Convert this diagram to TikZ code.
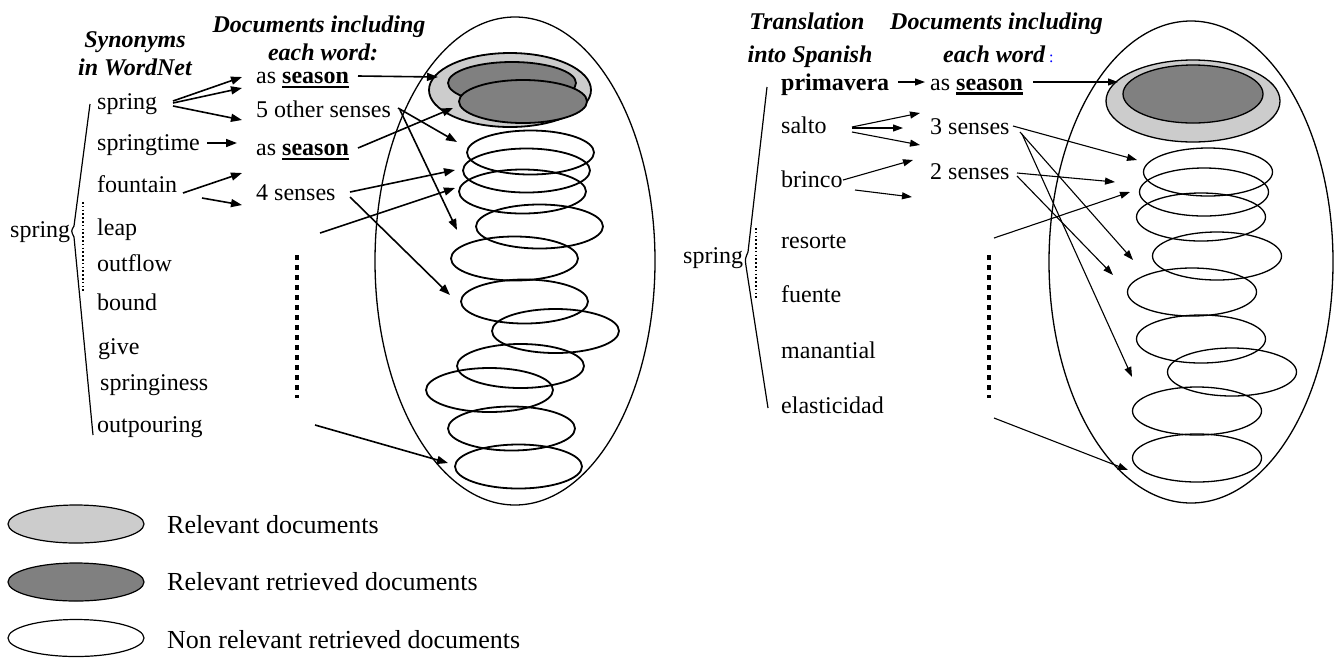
\documentclass[tikz,border=0pt]{standalone}
\usepackage{fontspec}
\setmainfont{Liberation Serif}
\usetikzlibrary{arrows.meta}
\definecolor{relgray}{HTML}{CCCCCC}
\definecolor{retgray}{HTML}{808080}
\newsavebox\ulwordbox
\newcommand\ulword[2][2.2pt]{\sbox\ulwordbox{#2}\rlap{\rule[-4.8pt]{\wd\ulwordbox}{#1}}\usebox\ulwordbox}
\begin{document}
\begin{tikzpicture}[x=1pt,y=-1pt,
  txt/.style={anchor=base west, inner sep=0pt, font=\fontsize{24}{28}\selectfont},
  hdr/.style={anchor=base, inner sep=0pt, font=\fontsize{24}{28}\selectfont\bfseries\itshape},
  legtxt/.style={anchor=base west, inner sep=0pt, font=\fontsize{26}{30}\selectfont},
  larr/.style={line width=1.6pt, -{Triangle[length=11pt,width=8pt]}},
  rarr/.style={line width=1.1pt, -{Triangle[length=10pt,width=7pt]}},
  bracket/.style={line width=1.2pt, line join=round},
  dotline/.style={line width=1.6pt, dash pattern=on 1.6pt off 2.2pt},
  dashline/.style={line width=3.5pt, dash pattern=on 5pt off 5pt},
  oval/.style={line width=1.3pt},
  ldoc/.style={line width=1.8pt},
  rdoc/.style={line width=1.3pt},
  relfill/.style={fill=relgray, draw=black},
  retfill/.style={fill=retgray, draw=black}]
\useasboundingbox (0,0) rectangle (1340,657);

% ---------------- English side ----------------
\node[hdr] (hS1) at (135,47) {Synonyms};
\node[hdr] (hS2) at (135,75) {in WordNet};
\node[hdr] (hD1) at (319,32) {Documents including};
\node[hdr] (hD2) at (323,60) {each word:};

\node[txt] (root) at (10,237) {spring};
\node[txt] (sp)  at (97,109) {spring};
\node[txt] (spt) at (97,150) {springtime};
\node[txt] (fnt) at (97,192) {fountain};
\node[txt] (lp)  at (97,235) {leap};
\node[txt] (ofl) at (97,271) {outflow};
\node[txt] (bnd) at (97,310) {bound};
\node[txt] (gv)  at (98,354) {give};
\node[txt] (spn) at (100,390) {springiness};
\node[txt] (opr) at (97,432) {outpouring};

\node[txt] (d1) at (256,83) {as \ulword{\bfseries season}};
\node[txt] (d2) at (256,117) {5 other senses};
\node[txt] (d3) at (256,155) {as \ulword{\bfseries season}};
\node[txt] (d4) at (256,200) {4 senses};

% brace joining the synonyms
\draw[bracket] (90,104) -- (74,226) .. controls (71,231) .. (74,237) -- (93,435);
\draw[dotline] (83,202) -- (83,293);
\draw[dashline] (297,255) -- (297,398);

% document set
\draw[oval] (515,261) ellipse [x radius=140, y radius=244];
\draw[ldoc, relfill] (510,90) ellipse [x radius=81, y radius=37];
\draw[ldoc, retfill] (512,83) ellipse [x radius=64, y radius=21];
\draw[ldoc, retfill] (523,101.5) ellipse [x radius=64, y radius=21.5];
\foreach \cx/\cy in {530.5/152.5, 526.5/170.5, 522.5/191.5, 539.5/226.5,
                     514.5/258.5, 524.5/301.5, 555.5/331, 520.5/366,
                     489.5/390, 511.5/428.5, 518.5/466.5}
  \draw[ldoc] (\cx,\cy) ellipse [x radius=63.5, y radius=22];

% arrow ends
\coordinate (a1s) at (173,101); \coordinate (a1e) at (242,77);
\coordinate (a2s) at (173,103); \coordinate (a2e) at (242,88);
\coordinate (a3s) at (173,106); \coordinate (a3e) at (242,120);
\coordinate (a4s) at (207,143); \coordinate (a4e) at (237,143);
\coordinate (a5s) at (183,193); \coordinate (a5e) at (242,173);
\coordinate (a6s) at (202,198); \coordinate (a6e) at (242,205);
\coordinate (b1s) at (358,76);  \coordinate (b1e) at (438,77);
\coordinate (b2s) at (398,108); \coordinate (b2e) at (457,142);
\coordinate (b3s) at (400,110); \coordinate (b3e) at (457,230);
\coordinate (b4s) at (358,148); \coordinate (b4e) at (453,108);
\coordinate (b5s) at (350,192); \coordinate (b5e) at (455,170);
\coordinate (b6s) at (350,197); \coordinate (b6e) at (450,295);
\coordinate (b7s) at (320,233); \coordinate (b7e) at (455,188);
\coordinate (b8s) at (315,425); \coordinate (b8e) at (448,463);

\foreach \p in {a1,a2,a3,a4,a5,a6,b1,b2,b3,b4,b5,b6,b7,b8}
  \draw[larr] (\p s) -- (\p e);

% ---------------- Spanish side ----------------
\node[hdr] (hT1) at (807,29) {Translation};
\node[hdr] (hT2) at (810,62) {into Spanish};
\node[hdr, anchor=base west] (hR1) at (890,29) {Documents including};
\node[hdr, anchor=base west] (hR2) at (943,62) {each word\,{\fontsize{16}{16}\selectfont\mdseries\upshape\color{blue}:}};

\node[txt] (root2) at (683,263) {spring};
\node[txt, font=\fontsize{24}{28}\selectfont\bfseries] (pv) at (781,90) {primavera};
\node[txt] (sl) at (781,133) {salto};
\node[txt] (br) at (781,187) {brinco};
\node[txt] (rs) at (781,248) {resorte};
\node[txt] (fu) at (781,302) {fuente};
\node[txt] (mn) at (781,358) {manantial};
\node[txt] (el) at (781,413) {elasticidad};

\node[txt] (r1) at (930,90) {as \ulword[2.6pt]{\bfseries season}};
\node[txt] (r2) at (930,134) {3 senses};
\node[txt] (r3) at (930,179) {2 senses};

\draw[bracket] (767,87) -- (748,252) .. controls (745,259) .. (746,266) -- (768,408);
\draw[dotline] (756,228) -- (756,300);
\draw[dashline] (989,255) -- (989,398);

\draw[oval] (1191,262) ellipse [x radius=142, y radius=241];
\draw[rdoc, relfill] (1193,101) ellipse [x radius=87, y radius=41];
\draw[rdoc, retfill] (1193,94) ellipse [x radius=70, y radius=29];
\foreach \cx/\cy in {1208/172, 1204/192, 1201/217, 1217/256, 1192/292,
                     1201/339, 1232/372, 1197/411, 1197/458}
  \draw[rdoc] (\cx,\cy) ellipse [x radius=64.5, y radius=24];

\coordinate (c1s) at (898,82);   \coordinate (c1e) at (925,82);
\coordinate (c2s) at (1033,82);  \coordinate (c2e) at (1118,82);
\coordinate (c3s) at (852,127);  \coordinate (c3e) at (920,113);
\coordinate (c4s) at (852,128);  \coordinate (c4e) at (903,128);
\coordinate (c5s) at (852,132);  \coordinate (c5e) at (920,145);
\coordinate (c6s) at (843,180);  \coordinate (c6e) at (913,160);
\coordinate (c7s) at (855,190);  \coordinate (c7e) at (912,197);
\coordinate (e1s) at (1013,126); \coordinate (e1e) at (1137,160);
\coordinate (e2s) at (1020,132); \coordinate (e2e) at (1133,260);
\coordinate (e3s) at (1022,134); \coordinate (e3e) at (1132,377);
\coordinate (e4s) at (1017,173); \coordinate (e4e) at (1115,182);
\coordinate (e5s) at (1017,176); \coordinate (e5e) at (1113,275);
\coordinate (e6s) at (994,238);  \coordinate (e6e) at (1130,192);
\coordinate (e7s) at (994,418);  \coordinate (e7e) at (1128,470);

\foreach \p in {c1,c2,c3,c4,c5,c6,c7,e1,e2,e3,e4,e5,e6,e7}
  \draw[rarr] (\p s) -- (\p e);

% ---------------- legend ----------------
\draw[line width=1.2pt, relfill] (76,524) ellipse [x radius=68, y radius=19];
\draw[line width=1.2pt, retfill] (76,582) ellipse [x radius=68, y radius=19];
\draw[line width=1.2pt] (76,638) ellipse [x radius=68, y radius=18.5];
\node[legtxt] (l1) at (167,533) {Relevant documents};
\node[legtxt] (l2) at (167,590) {Relevant retrieved documents};
\node[legtxt] (l3) at (167,648) {Non relevant retrieved documents};
\end{tikzpicture}
\end{document}
